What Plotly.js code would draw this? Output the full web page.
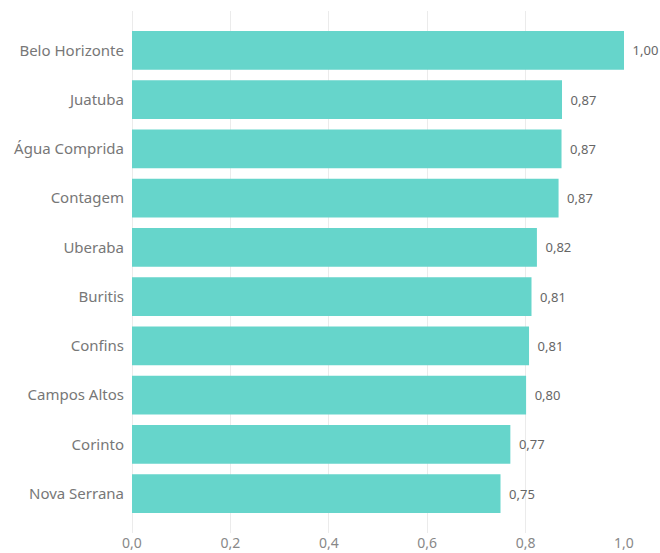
<!DOCTYPE html>
<html>
<head>
<meta charset="utf-8">
<script src="https://cdn.plot.ly/plotly-3.0.1.min.js"></script>
<style>html,body{margin:0;padding:0;background:#fff;}#chart{width:660px;height:553px;}</style>
</head>
<body>
<div id="chart"></div>
<script>
const categories = ["Belo Horizonte", "Juatuba", "Água Comprida", "Contagem", "Uberaba", "Buritis", "Confins", "Campos Altos", "Corinto", "Nova Serrana"];
const values = [1.00, 0.874, 0.873, 0.867, 0.823, 0.812, 0.807, 0.801, 0.769, 0.749];
const xTickValues = [0, 0.2, 0.4, 0.6, 0.8, 1.0];

const trace = {
  type: 'bar',
  orientation: 'h',
  y: categories,
  x: values,
  marker: {color: '#66d5cb', line: {width: 0}},
  texttemplate: '\u00a0\u2009%{x:.2f}',
  textposition: 'outside',
  constraintext: 'none',
  cliponaxis: false,
  textfont: {family: 'Noto Sans, Open Sans, sans-serif', size: 13, color: '#666666'},
  hoverinfo: 'none'
};

const layout = {
  width: 660, height: 553,
  margin: {l: 132, r: 36, t: 11, b: 20},
  paper_bgcolor: '#ffffff', plot_bgcolor: '#ffffff',
  separators: ',.',
  bargap: 0.21,
  showlegend: false,
  font: {family: 'Noto Sans, Open Sans, sans-serif', size: 15, color: '#777777'},
  xaxis: {
    range: [0, 1.0],
    tickvals: xTickValues,
    tickformat: '.1f',
    showgrid: true, gridcolor: '#ebebeb', gridwidth: 1,
    zeroline: true, zerolinecolor: '#ebebeb', zerolinewidth: 1,
    showline: false, ticks: '',
    tickfont: {size: 14, color: '#888888'}
  },
  yaxis: {
    type: 'category',
    range: [9.8, -0.8],
    showgrid: false, zeroline: false, showline: false, ticks: '',
    ticklabelstandoff: 7,
    tickfont: {size: 15, color: '#777777'}
  }
};

Plotly.newPlot('chart', [trace], layout, {staticPlot: true, displayModeBar: false});
</script>
</body>
</html>
